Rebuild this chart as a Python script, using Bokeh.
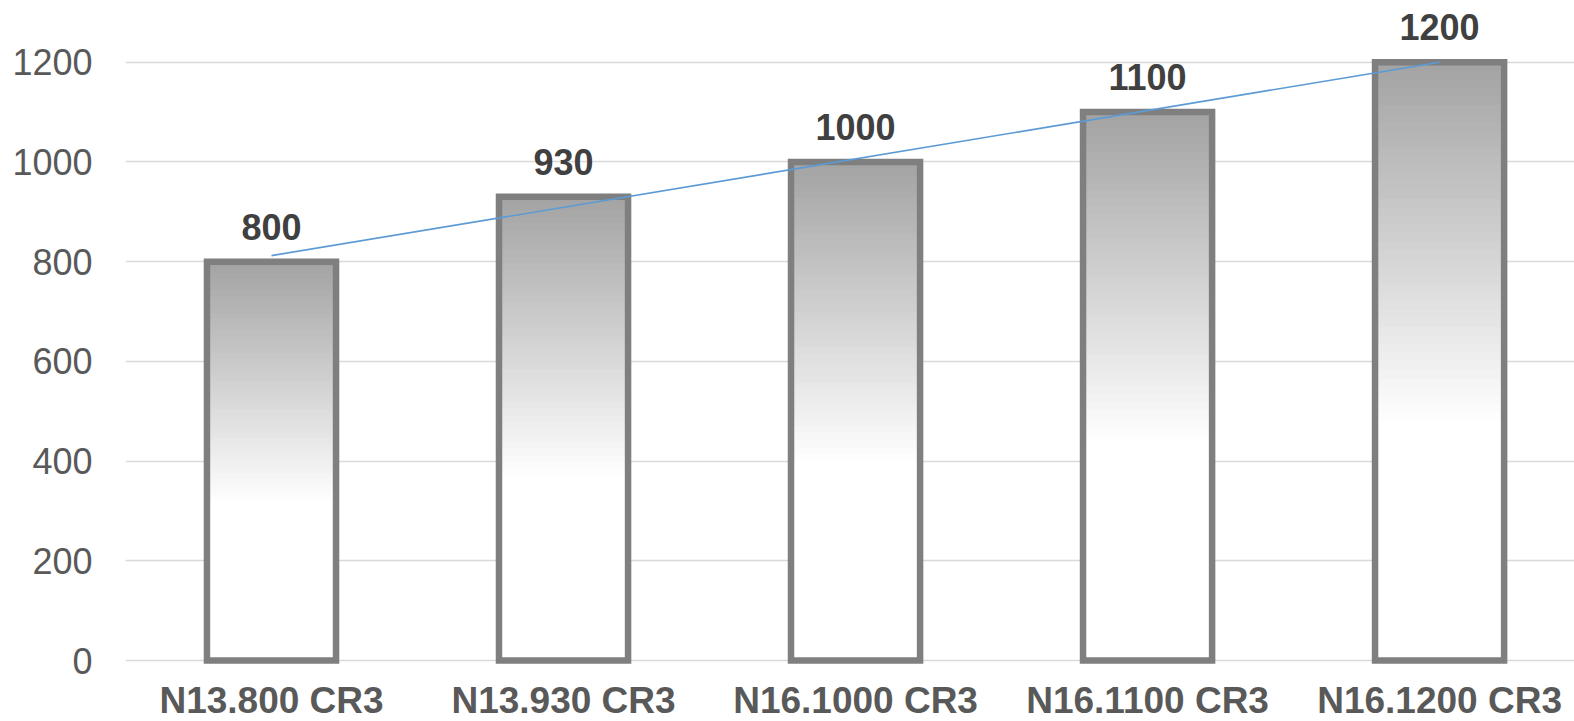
import numpy as np
from bokeh.plotting import figure
from bokeh.models import Range1d, FixedTicker
from bokeh.core.properties import value
from bokeh.embed import file_html
from bokeh.resources import INLINE

categories = ["N13.800 CR3", "N13.930 CR3", "N16.1000 CR3", "N16.1100 CR3", "N16.1200 CR3"]
values = [800, 930, 1000, 1100, 1200]
y_ticks = [0, 200, 400, 600, 800, 1000, 1200]

FONT = "Liberation Sans"
xs = np.arange(len(categories))
bar_w = 0.442

p = figure(width=1574, height=721, output_backend="svg", toolbar_location=None,
           x_range=Range1d(-0.5, 4.462), y_range=Range1d(-122.3, 1323.7),
           min_border_left=125, min_border_right=0, min_border_top=0, min_border_bottom=0)
p.outline_line_color = None
p.background_fill_color = "white"
p.border_fill_color = "white"

# axes
p.xaxis.visible = False
p.xgrid.grid_line_color = None
yax = p.yaxis[0]
yax.ticker = FixedTicker(ticks=y_ticks)
yax.axis_line_color = None
yax.major_tick_line_color = None
yax.minor_tick_line_color = None
yax.major_tick_out = 0
yax.major_tick_in = 0
yax.major_label_standoff = 33
yax.major_label_text_font = FONT
yax.major_label_text_font_size = "36px"
yax.major_label_text_color = "#595959"
p.ygrid.ticker = FixedTicker(ticks=y_ticks)
p.ygrid.grid_line_color = "#d9d9d9"
p.ygrid.grid_line_width = 1.3

# gradient fill: white in the lower part of each bar, grey towards the top
N = 70
top_rgb = np.array([163, 163, 163])
white_start = 0.40
L, R, B, T, C = [], [], [], [], []
for i, v in enumerate(values):
    for k in range(N):
        f0, f1 = k / N, (k + 1) / N
        fm = (f0 + f1) / 2
        t = max(0.0, (fm - white_start) / (1 - white_start))
        rgb = (255 + (top_rgb - 255) * t).astype(int)
        L.append(xs[i] - bar_w / 2); R.append(xs[i] + bar_w / 2)
        B.append(v * f0); T.append(min(v, v * f1 + v / N * 0.6))
        C.append("#%02x%02x%02x" % tuple(rgb))
p.quad(left=L, right=R, bottom=B, top=T, fill_color=C, line_color=None)

# bar outlines
p.quad(left=xs - bar_w / 2, right=xs + bar_w / 2, bottom=0, top=values,
       fill_color=None, line_color="#7f7f7f", line_width=6.5, line_join="miter")

# linear trendline
slope, intercept = np.polyfit(xs, values, 1)
tx = np.array([xs[0], xs[-1]])
p.line(tx, slope * tx + intercept, line_color="#5b9bd5", line_width=1.6)

# data labels
p.text(x=xs, y=values, text=[str(v) for v in values], text_align="center",
       text_baseline="alphabetic", y_offset=-35, text_font=value(FONT),
       text_font_style="bold", text_font_size="36px", text_color="#404040")

# category labels
p.text(x=xs, y=[0] * len(xs), text=categories, text_align="center",
       text_baseline="alphabetic", y_offset=40, text_font=value(FONT),
       text_font_style="bold", text_font_size="37px", text_color="#595959")

open("out.html", "w").write(file_html(p, INLINE))
